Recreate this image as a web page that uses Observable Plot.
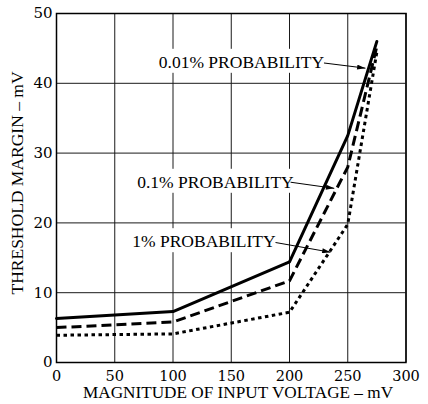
<!DOCTYPE html>
<html><head><meta charset="utf-8">
<script src="https://cdn.jsdelivr.net/npm/d3@7"></script>
<script src="https://cdn.jsdelivr.net/npm/@observablehq/plot@0.6"></script>
<style>
html,body{margin:0;padding:0;background:#fff}
#chart svg text{font-family:"DejaVu Serif" !important;}
#chart svg g.ann-label text, #chart svg g.ttl text{font-family:"Liberation Serif" !important;}
</style>
</head><body><div id="chart"></div>
<script>
// ---- data ----
const inputVoltage = [0, 100, 200, 250, 275];           // mV
const prob001 = [6.3, 7.3, 14.4, 32.5, 46.0];           // 0.01% probability (solid)
const prob01  = [5.0, 5.8, 11.7, 28.0, 45.3];           // 0.1% probability (dashed)
const prob1   = [3.9, 4.1, 7.2, 19.8, 44.5];            // 1% probability (dotted)
const seriesNames = ["0.01% PROBABILITY", "0.1% PROBABILITY", "1% PROBABILITY"];
const xTicks = [0, 50, 100, 150, 200, 250, 300];
const yTicks = [0, 10, 20, 30, 40, 50];
const xTitle = "MAGNITUDE OF INPUT VOLTAGE \u2013 mV";
const yTitle = "THRESHOLD MARGIN \u2013 mV";
// annotation label anchors (data units, text start / baseline)
const labelX = [87.8, 69.3, 65.0];
const labelY = [42.22, 25.03, 16.52];
// annotation arrows (data units)
const arrowX1 = [229.6, 200.9, 188.0];
const arrowY1 = [42.91, 25.83, 17.19];
const arrowX2 = [265.2, 238.4, 235.2];
const arrowY2 = [42.17, 24.95, 15.80];

const mk = (vals) => inputVoltage.map((x, i) => ({x, y: vals[i]}));
const labels = seriesNames.map((t, i) => ({text: t, x: labelX[i], y: labelY[i]}));
const arrows = seriesNames.map((t, i) => ({x1: arrowX1[i], y1: arrowY1[i], x2: arrowX2[i], y2: arrowY2[i]}));

const chart = Plot.plot({
  width: 428, height: 404,
  marginLeft: 56, marginRight: 22.5, marginTop: 13, marginBottom: 42,
  x: {domain: [0, 300]},
  y: {domain: [0, 50]},
  style: {fontSize: "15px", color: "black", background: "white"},
  marks: [
    Plot.gridX(xTicks, {stroke: "#1a1a1a", strokeOpacity: 1, strokeWidth: 1}),
    Plot.gridY(yTicks, {stroke: "#1a1a1a", strokeOpacity: 1, strokeWidth: 1}),
    Plot.text(labels, {x: "x", y: "y", text: "text", textAnchor: "start", lineAnchor: "bottom",
      fontSize: 17.5, fill: "black", className: "ann-label"}),
    Plot.line(mk(prob1), {x: "x", y: "y", stroke: "black", strokeWidth: 3, strokeDasharray: "3.5,3.5", strokeLinecap: "butt"}),
    Plot.line(mk(prob01), {x: "x", y: "y", stroke: "black", strokeWidth: 3, strokeDasharray: "10,5", strokeLinecap: "butt"}),
    Plot.line(mk(prob001), {x: "x", y: "y", stroke: "black", strokeWidth: 3}),
    Plot.link(arrows, {x1: "x1", y1: "y1", x2: "x2", y2: "y2", stroke: "black", strokeWidth: 1, className: "ann-arrow"}),
    Plot.frame({stroke: "black", strokeWidth: 1.5}),
    Plot.axisX({ticks: xTicks, tickSize: 0, tickPadding: 8, label: null, fontSize: 14.5}),
    Plot.axisY({ticks: yTicks, tickSize: 0, tickPadding: 4, label: null, fontSize: 15}),
    Plot.text([xTitle], {text: d => d, frameAnchor: "bottom", textAnchor: "middle", dx: 6.75, dy: 35, lineAnchor: "bottom",
      fontSize: 17.2, fill: "black", className: "ttl"}),
    Plot.text([yTitle], {text: d => d, frameAnchor: "left", rotate: -90, textAnchor: "middle", dx: -33.3, dy: -5, lineAnchor: "bottom",
      fontSize: 17.5, fill: "black", className: "ttl"})
  ]
});
document.getElementById("chart").appendChild(chart);

// white boxes behind annotation labels (interrupting the grid)
const svg = d3.select(chart);
svg.selectAll("g.ann-label text").each(function() {
  const b = this.getBBox();
  const r = document.createElementNS("http://www.w3.org/2000/svg", "rect");
  r.setAttribute("x", b.x - 3);
  r.setAttribute("y", b.y - 3);
  r.setAttribute("width", b.width + 6);
  r.setAttribute("height", b.height + 4);
  r.setAttribute("fill", "white");
  const t = this.getAttribute("transform");
  if (t) r.setAttribute("transform", t);
  this.parentNode.insertBefore(r, this);
});
// filled arrowheads
const defs = svg.insert("defs", ":first-child");
defs.append("marker").attr("id", "ann-head").attr("viewBox", "0 0 10 6")
  .attr("refX", 10).attr("refY", 3).attr("markerWidth", 10).attr("markerHeight", 5)
  .attr("orient", "auto").attr("markerUnits", "userSpaceOnUse")
  .append("path").attr("d", "M0,0L10,3L0,6Z").attr("fill", "black");
svg.selectAll("g.ann-arrow path").attr("marker-end", "url(#ann-head)");
</script>
</body></html>
